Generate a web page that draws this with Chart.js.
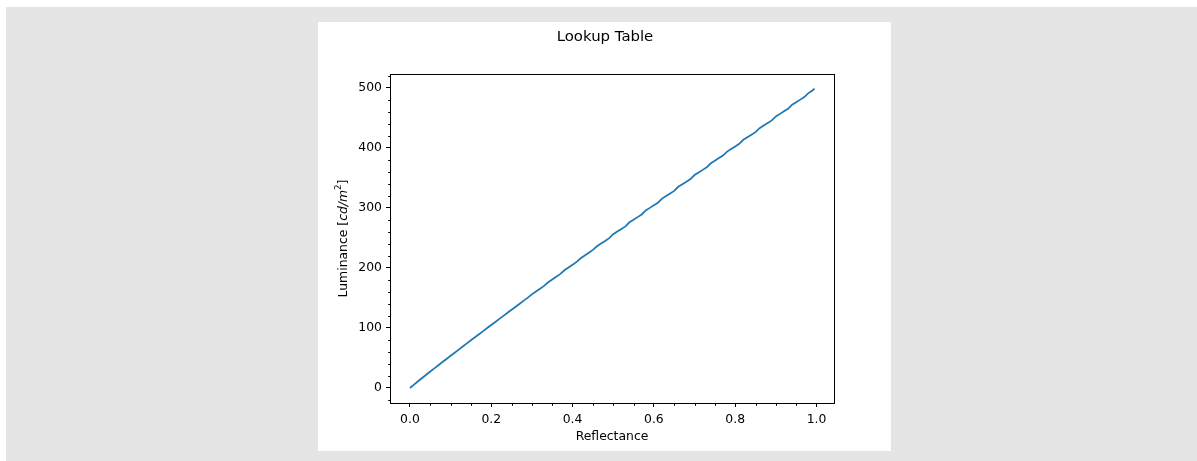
<!DOCTYPE html>
<html>
<head>
<meta charset="utf-8">
<script src="https://cdn.jsdelivr.net/npm/chart.js@4"></script>
<style>
  html, body { margin: 0; padding: 0; background: #ffffff; width: 1197px; height: 461px; overflow: hidden; }
  #bg { position: absolute; left: 6px; top: 7px; width: 1191px; height: 454px; background: #e5e5e5; }
  #panel { position: absolute; left: 318px; top: 22px; width: 573px; height: 429px; background: #ffffff; }
  canvas { display: block; }
</style>
</head>
<body>
<div id="bg"></div>
<div id="panel"><canvas id="c" width="573" height="429"></canvas></div>
<script>
// ---- data ----
const chartTitle = 'Lookup Table';
const xAxisLabel = 'Reflectance';
const reflectance = [
  0.00, 0.01, 0.02, 0.03, 0.04, 0.05, 0.06, 0.07, 0.08, 0.09,
  0.10, 0.11, 0.12, 0.13, 0.14, 0.15, 0.16, 0.17, 0.18, 0.19,
  0.20, 0.21, 0.22, 0.23, 0.24, 0.25, 0.26, 0.27, 0.28, 0.29,
  0.30, 0.31, 0.32, 0.33, 0.34, 0.35, 0.36, 0.37, 0.38, 0.39,
  0.40, 0.41, 0.42, 0.43, 0.44, 0.45, 0.46, 0.47, 0.48, 0.49,
  0.50, 0.51, 0.52, 0.53, 0.54, 0.55, 0.56, 0.57, 0.58, 0.59,
  0.60, 0.61, 0.62, 0.63, 0.64, 0.65, 0.66, 0.67, 0.68, 0.69,
  0.70, 0.71, 0.72, 0.73, 0.74, 0.75, 0.76, 0.77, 0.78, 0.79,
  0.80, 0.81, 0.82, 0.83, 0.84, 0.85, 0.86, 0.87, 0.88, 0.89,
  0.90, 0.91, 0.92, 0.93, 0.94, 0.95, 0.96, 0.97, 0.98, 0.99,
  0.995
];
const luminance = [
  0.0, 5.7, 11.2, 16.7, 22.0, 27.4, 32.6, 37.9, 43.2, 48.4,
  53.6, 58.8, 63.9, 69.1, 74.3, 79.4, 84.5, 89.6, 94.8, 99.9,
  105.0, 110.0, 115.1, 120.2, 125.3, 130.3, 135.4, 140.4, 145.5, 150.5,
  156.0, 160.8, 165.4, 170.1, 176.1, 180.8, 185.4, 190.1, 196.1, 200.8,
  205.4, 210.1, 216.0, 220.7, 225.3, 230.0, 236.1, 240.7, 245.0, 249.6,
  256.2, 260.5, 264.9, 269.2, 276.0, 280.3, 284.6, 289.0, 295.7, 300.0,
  304.4, 308.6, 315.4, 319.7, 324.0, 328.3, 335.1, 339.4, 343.7, 348.0,
  354.7, 359.0, 363.3, 367.6, 374.3, 378.6, 382.9, 387.1, 393.8, 398.1,
  402.4, 406.7, 413.4, 417.6, 421.9, 426.2, 432.8, 437.1, 441.4, 445.7,
  452.3, 456.6, 460.9, 465.1, 471.8, 476.0, 480.3, 484.5, 491.2, 495.5,
  498.5
];

const FONT = "'DejaVu Sans', sans-serif";
const FS = 12.4;
const TITLE_FS = 14.9;

const framePlugin = {
  id: 'frame',
  afterDraw(chart) {
    const ctx = chart.ctx;
    const a = chart.chartArea;
    const xs = chart.scales.x, ys = chart.scales.y;
    ctx.save();
    // frame
    ctx.strokeStyle = '#000';
    ctx.lineWidth = 1;
    ctx.strokeRect(Math.round(a.left) + 0.5, Math.round(a.top) + 0.5,
                   Math.round(a.right) - Math.round(a.left), Math.round(a.bottom) - Math.round(a.top));
    // minor ticks
    ctx.beginPath();
    for (let k = -1; k <= 21; k++) {
      const v = k * 0.05;
      if (v < xs.min || v > xs.max) continue;
      if (k % 4 === 0) continue;
      const px = Math.round(xs.getPixelForValue(v)) + 0.5;
      ctx.moveTo(px, Math.round(a.bottom) + 0.5);
      ctx.lineTo(px, Math.round(a.bottom) + 2.8);
    }
    for (let k = -2; k <= 27; k++) {
      const v = k * 20;
      if (v < ys.min || v > ys.max) continue;
      if (k % 5 === 0) continue;
      const py = Math.round(ys.getPixelForValue(v)) + 0.5;
      ctx.moveTo(Math.round(a.left) + 0.5, py);
      ctx.lineTo(Math.round(a.left) - 1.8, py);
    }
    ctx.stroke();
    ctx.fillStyle = '#000';
    // chart title
    ctx.font = `${TITLE_FS}px ${FONT}`;
    ctx.textAlign = 'center';
    ctx.textBaseline = 'middle';
    ctx.fillText(chartTitle, 287, 15.5);
    // y axis title with mathtext-like styling
    const parts = [
      { t: 'Luminance [', f: `${FS}px ${FONT}`, dy: 0 },
      { t: 'cd/m', f: `italic ${FS}px ${FONT}`, dy: 0 },
      { t: '2', f: `${FS * 0.7}px ${FONT}`, dy: -4.4 },
      { t: ']', f: `${FS}px ${FONT}`, dy: 0 }
    ];
    let total = 0;
    parts.forEach(p => { ctx.font = p.f; p.w = ctx.measureText(p.t).width; total += p.w; });
    ctx.translate(25.5, (a.top + a.bottom) / 2);
    ctx.rotate(-Math.PI / 2);
    ctx.textBaseline = 'middle';
    ctx.textAlign = 'left';
    let x = -total / 2;
    parts.forEach(p => { ctx.font = p.f; ctx.fillText(p.t, x, p.dy); x += p.w; });
    ctx.restore();
  }
};

new Chart(document.getElementById('c'), {
  type: 'line',
  data: {
    datasets: [{
      data: reflectance.map((r, i) => ({ x: r, y: luminance[i] })),
      borderColor: '#1f77b4',
      borderWidth: 1.75,
      pointRadius: 0,
      tension: 0,
      fill: false
    }]
  },
  options: {
    responsive: false,
    animation: false,
    events: [],
    layout: { padding: { left: 0, right: 57, top: 52, bottom: 0 } },
    plugins: {
      legend: { display: false },
      tooltip: { enabled: false },
      title: { display: false }
    },
    scales: {
      x: {
        type: 'linear',
        min: -0.049,
        max: 1.043,
        afterFit(s) { s.height = 48; },
        grid: { drawOnChartArea: false, drawTicks: true, tickLength: 4, tickColor: '#000', tickWidth: 1 },
        border: { display: false },
        ticks: {
          stepSize: 0.2,
          includeBounds: false,
          maxRotation: 0,
          padding: 5,
          color: '#000',
          font: { family: FONT, size: FS },
          callback: v => Number(v).toFixed(1)
        },
        title: {
          display: true,
          text: xAxisLabel,
          color: '#000',
          font: { family: FONT, size: FS },
          padding: { top: 0, bottom: 7 }
        }
      },
      y: {
        type: 'linear',
        min: -25,
        max: 523,
        afterFit(s) { s.width = 72; },
        grid: { drawOnChartArea: false, drawTicks: true, tickLength: 4, tickColor: '#000', tickWidth: 1 },
        border: { display: false },
        ticks: {
          stepSize: 100,
          includeBounds: false,
          padding: 4,
          color: '#000',
          font: { family: FONT, size: FS },
          callback: v => String(Math.round(v))
        }
      }
    }
  },
  plugins: [framePlugin]
});
</script>
</body>
</html>
